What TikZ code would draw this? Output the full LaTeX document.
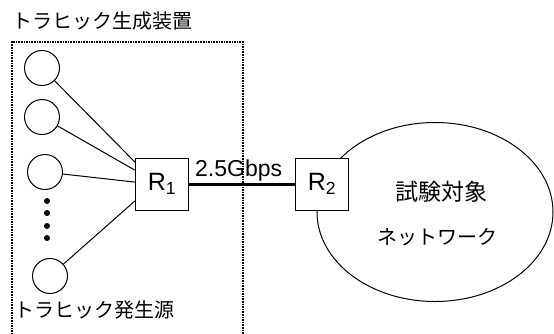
\documentclass[tikz,border=0pt]{standalone}
\usepackage{fontspec}
\setmainfont{Liberation Sans}
\newfontfamily\jpfont{Noto Sans CJK JP}
\usetikzlibrary{shapes.geometric}
\tikzset{
  src/.style={draw,circle,minimum size=35pt,inner sep=0pt,line width=1pt},
  router/.style={draw,fill=white,minimum width=53pt,minimum height=52pt,inner sep=0pt,line width=1pt,font=\fontsize{25}{29}\selectfont},
  lbl/.style={font=\jpfont\fontsize{20}{24}\selectfont,inner sep=0pt}
}
\begin{document}
\begin{tikzpicture}[x=1pt,y=-1pt]
\useasboundingbox (0,0) rectangle (554,333);
\clip (0,0) rectangle (554,333);

\node[draw,ellipse,minimum width=236pt,minimum height=179pt,line width=1pt] (net) at (435,212) {};
\node[lbl,font=\jpfont\fontsize{23}{27}\selectfont] (target) at (441,192) {試験対象};
\node[lbl] (network) at (437,237) {ネットワーク};

\node[router] (r1) at (162,184) {R\textsubscript{1}};
\node[router] (r2) at (322,184) {R\textsubscript{2}};
\draw[line width=3pt] (r1) -- (r2);
\node[anchor=base west,inner sep=0pt,font=\fontsize{23}{27}\selectfont] (rate) at (195,176) {2.5Gbps};

\node[src] (s1) at (42,68) {};
\node[src] (s2) at (42,117) {};
\node[src] (s3) at (45,172) {};
\node[src] (s4) at (50,276) {};
\draw[line width=1pt] (s1) -- (r1.141);
\draw[line width=1pt] (s2) -- (r1.153);
\draw[line width=1pt] (s3) -- (r1.176);
\draw[line width=1pt] (s4) -- (r1.212);

\foreach \y in {201,213,226,238}
  \fill (47,\y) circle (3pt);

\draw[line width=1.6pt,densely dotted] (12,345) -- (12,42) -- (243,42) -- (243,345);

\node[lbl,anchor=west] (gen) at (12,21) {トラヒック生成装置};
\node[lbl,anchor=west] (srcname) at (14,310) {トラヒック発生源};
\end{tikzpicture}
\end{document}
